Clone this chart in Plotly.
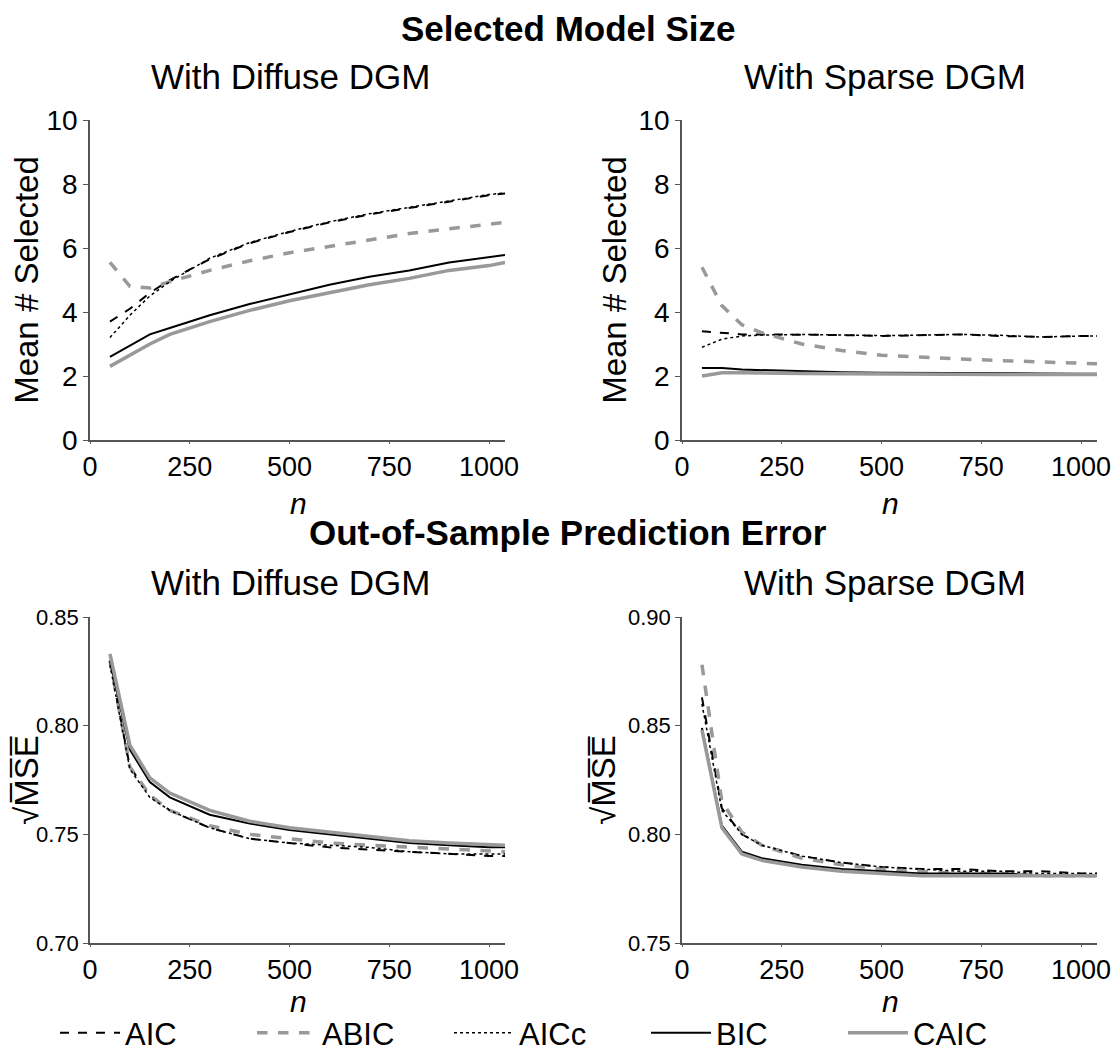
import plotly.graph_objects as go

n = [50, 100, 150, 200, 300, 400, 500, 600, 700, 800, 900, 1000, 1040]

size_diffuse = {
    "AIC":  [3.7, 4.1, 4.6, 5.0, 5.65, 6.15, 6.5, 6.8, 7.05, 7.25, 7.45, 7.65, 7.7],
    "ABIC": [5.55, 4.8, 4.75, 4.95, 5.3, 5.6, 5.85, 6.05, 6.25, 6.45, 6.6, 6.75, 6.8],
    "AICc": [3.2, 3.9, 4.5, 4.95, 5.68, 6.17, 6.52, 6.82, 7.07, 7.27, 7.47, 7.67, 7.72],
    "BIC":  [2.6, 2.95, 3.3, 3.5, 3.9, 4.25, 4.55, 4.85, 5.1, 5.3, 5.55, 5.7, 5.78],
    "CAIC": [2.3, 2.65, 3.0, 3.3, 3.7, 4.05, 4.35, 4.6, 4.85, 5.05, 5.3, 5.45, 5.55],
}
size_sparse = {
    "AIC":  [3.4, 3.35, 3.3, 3.3, 3.3, 3.28, 3.25, 3.27, 3.3, 3.25, 3.22, 3.25, 3.25],
    "ABIC": [5.4, 4.2, 3.6, 3.35, 3.0, 2.8, 2.65, 2.58, 2.53, 2.48, 2.45, 2.4, 2.38],
    "AICc": [2.9, 3.15, 3.25, 3.28, 3.3, 3.28, 3.26, 3.28, 3.3, 3.27, 3.22, 3.25, 3.25],
    "BIC":  [2.25, 2.25, 2.2, 2.18, 2.15, 2.12, 2.1, 2.1, 2.1, 2.08, 2.08, 2.07, 2.07],
    "CAIC": [2.0, 2.1, 2.1, 2.1, 2.08, 2.07, 2.06, 2.05, 2.05, 2.05, 2.05, 2.05, 2.05],
}
mse_diffuse = {
    "AIC":  [.829, .781, .768, .761, .753, .748, .746, .744, .743, .742, .741, .740, .740],
    "ABIC": [.830, .781, .768, .761, .754, .750, .748, .746, .745, .744, .743, .742, .742],
    "AICc": [.828, .780, .767, .761, .753, .748, .746, .745, .744, .742, .741, .741, .741],
    "BIC":  [.830, .789, .774, .767, .759, .755, .752, .750, .748, .746, .745, .744, .744],
    "CAIC": [.833, .791, .776, .769, .761, .756, .753, .751, .749, .747, .746, .745, .745],
}
mse_sparse = {
    "AIC":  [.863, .812, .800, .795, .790, .787, .785, .784, .784, .783, .783, .782, .782],
    "ABIC": [.878, .815, .801, .795, .789, .786, .784, .783, .782, .782, .781, .781, .781],
    "AICc": [.860, .811, .800, .795, .790, .787, .785, .784, .783, .783, .782, .782, .782],
    "BIC":  [.849, .804, .792, .789, .786, .784, .783, .782, .782, .782, .781, .781, .781],
    "CAIC": [.848, .803, .791, .788, .785, .783, .782, .781, .781, .781, .781, .781, .781],
}

styles = {
    "AIC":  dict(color="black", dash="dash", width=2),
    "ABIC": dict(color="#999999", dash="dash", width=3.5),
    "AICc": dict(color="black", dash="dot", width=1.5),
    "BIC":  dict(color="black", dash="solid", width=2),
    "CAIC": dict(color="#999999", dash="solid", width=3.5),
}
order = ["AIC", "ABIC", "AICc", "BIC", "CAIC"]

fig = go.Figure()
panels = [(size_diffuse, "x", "y"), (size_sparse, "x2", "y2"),
          (mse_diffuse, "x3", "y3"), (mse_sparse, "x4", "y4")]
for i, (data, xa, ya) in enumerate(panels):
    for name in order:
        fig.add_trace(go.Scatter(x=n, y=data[name], mode="lines", name=name,
                                 line=styles[name], xaxis=xa, yaxis=ya,
                                 showlegend=(i == 0)))

F = "Liberation Sans, Arial, sans-serif"
W, H, OFF = 1120, 1061, 8

def px(x):
    return (x - OFF) / W

def py(y):
    return 1 - (y - OFF) / H

xd = [[px(90), px(505)], [px(682), px(1097)]]
yd = [[py(440), py(120)], [py(943), py(617)]]

def xaxis(dom, anchor):
    return dict(domain=dom, anchor=anchor, range=[0, 1040], tickvals=[0, 250, 500, 750, 1000],
                showline=True, linecolor="#555", linewidth=1.5, ticks="outside", ticklen=2,
                tickcolor="#555", showgrid=False, zeroline=False, automargin=False,
                tickfont=dict(size=27, family=F, color="black"))

def yaxis(dom, anchor, rng, tv, tt, title, fs):
    return dict(domain=dom, anchor=anchor, range=rng, tickvals=tv, ticktext=tt,
                showline=True, linecolor="#555", linewidth=1.5, ticks="outside", ticklen=5,
                tickcolor="#555", showgrid=False, zeroline=False, automargin=False,
                tickfont=dict(size=fs, family=F, color="black"),
                title=dict(text=title, font=dict(size=33, family=F, color="black"), standoff=2))

st = [0, 2, 4, 6, 8, 10]
sq = "√M\u0305S\u0305E\u0305"

def ann(text, x, y, size=35):
    return dict(text=text, x=px(x), y=py(y),
                xref="paper", yref="paper", xanchor="center", yanchor="middle",
                showarrow=False, font=dict(size=size, family=F, color="black"))

fig.update_layout(
    width=W, height=H, margin=dict(l=0, r=0, t=0, b=0, autoexpand=False),
    plot_bgcolor="white", paper_bgcolor="white",
    font=dict(family=F, color="black"),
    xaxis=xaxis(xd[0], "y"), xaxis2=xaxis(xd[1], "y2"),
    xaxis3=xaxis(xd[0], "y3"), xaxis4=xaxis(xd[1], "y4"),
    yaxis=yaxis(yd[0], "x", [0, 10], st, [str(v) for v in st], "Mean # Selected", 28),
    yaxis2=yaxis(yd[0], "x2", [0, 10], st, [str(v) for v in st], "Mean # Selected", 28),
    yaxis3=yaxis(yd[1], "x3", [0.70, 0.85], [0.70, 0.75, 0.80, 0.85], ["0.70", "0.75", "0.80", "0.85"], sq, 22),
    yaxis4=yaxis(yd[1], "x4", [0.75, 0.90], [0.75, 0.80, 0.85, 0.90], ["0.75", "0.80", "0.85", "0.90"], sq, 22),
    legend=dict(orientation="h", x=px(55), xanchor="left", y=py(1033), yanchor="middle",
                font=dict(size=31, family=F, color="black"), itemwidth=60,
                entrywidth=122, bgcolor="rgba(0,0,0,0)"),
    annotations=[
        ann("<b>Selected Model Size</b>", 568, 28),
        ann("With Diffuse DGM", 290, 77),
        ann("With Sparse DGM", 885, 77),
        ann("<b>Out-of-Sample Prediction Error</b>", 568, 532),
        ann("With Diffuse DGM", 290, 582),
        ann("With Sparse DGM", 885, 582),
        ann("<i>n</i>", 298, 503, 30),
        ann("<i>n</i>", 890, 503, 30),
        ann("<i>n</i>", 298, 1001, 30),
        ann("<i>n</i>", 890, 1001, 30),
    ],
)
fig.write_html("out.html")
